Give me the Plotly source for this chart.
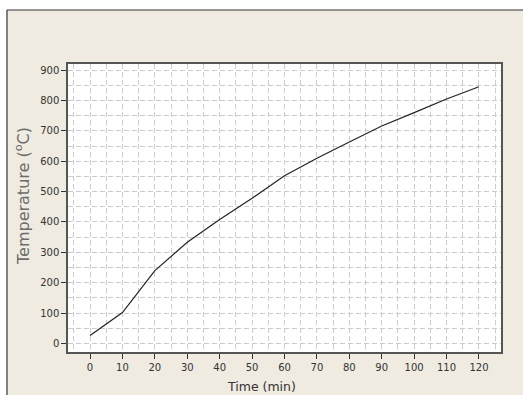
import plotly.graph_objects as go

time_min = [0, 10, 20, 30, 40, 50, 60, 70, 80, 90, 100, 110, 120]
temperature_c = [26, 102, 240, 333, 408, 478, 552, 610, 663, 716, 760, 805, 845]

x_ticks = [0, 10, 20, 30, 40, 50, 60, 70, 80, 90, 100, 110, 120]
y_ticks = [0, 100, 200, 300, 400, 500, 600, 700, 800, 900]

fig = go.Figure()
fig.add_trace(go.Scatter(
    x=time_min, y=temperature_c, mode="lines",
    line=dict(color="#222222", width=1.2), showlegend=False,
))

grid_color = "#cccccc"
font_family = "DejaVu Sans"

axis_common = dict(
    ticks="outside", ticklen=5, tickcolor="#333333", tickwidth=1,
    showline=True, linecolor="#555555", linewidth=1.5, mirror=True,
    showgrid=True, gridcolor=grid_color, griddash="5px,3px", gridwidth=1,
    zeroline=False, automargin=False,
    tickfont=dict(family=font_family, size=10, color="#333333"),
)

fig.update_layout(
    width=523, height=395,
    margin=dict(l=68, r=22, t=64, b=43, autoexpand=False),
    paper_bgcolor="#efebe1",
    plot_bgcolor="#ffffff",
    font=dict(family=font_family, size=10, color="#333333"),
    xaxis=dict(
        range=[-6.8, 126.8], tickvals=x_ticks,
        minor=dict(dtick=5, tick0=0, showgrid=True, gridcolor=grid_color,
                   griddash="5px,3px", gridwidth=1),
        **axis_common,
    ),
    yaxis=dict(
        range=[-28, 920], tickvals=y_ticks,
        minor=dict(dtick=50, tick0=0, showgrid=True, gridcolor=grid_color,
                   griddash="5px,3px", gridwidth=1),
        **axis_common,
    ),
)

# axis titles
fig.add_annotation(text="Time (min)", xref="paper", yref="paper",
                   x=(261.5 - 68) / 433, y=-(386 - 352) / 288,
                   xanchor="center", yanchor="middle", showarrow=False,
                   font=dict(family=font_family, size=12.5, color="#333333"))
fig.add_annotation(text="Temperature (<sup>o</sup>C)", xref="paper", yref="paper",
                   x=-(68 - 22) / 433, y=(352 - 196) / 288, textangle=-90,
                   xanchor="center", yanchor="middle", showarrow=False,
                   font=dict(family=font_family, size=16, color="#6b6b6b"))

# white strips outside the panel frame and the frame lines
fig.add_shape(type="rect", xref="paper", yref="paper",
              x0=-0.3, x1=-0.1409, y0=-0.3, y1=1.5,
              fillcolor="#ffffff", line=dict(width=0), layer="below")
fig.add_shape(type="rect", xref="paper", yref="paper",
              x0=-0.3, x1=1.3, y0=1.1875, y1=1.5,
              fillcolor="#ffffff", line=dict(width=0), layer="below")
fig.add_shape(type="line", xref="paper", yref="paper",
              x0=-0.1409, x1=-0.1409, y0=-0.3, y1=1.1875,
              line=dict(color="#333333", width=1.2))
fig.add_shape(type="line", xref="paper", yref="paper",
              x0=-0.1409, x1=1.3, y0=1.1875, y1=1.1875,
              line=dict(color="#333333", width=1.2))

fig.write_html("out.html",
               config={"displayModeBar": False},
               post_script="document.body.style.margin='0';document.body.style.padding='0';")
